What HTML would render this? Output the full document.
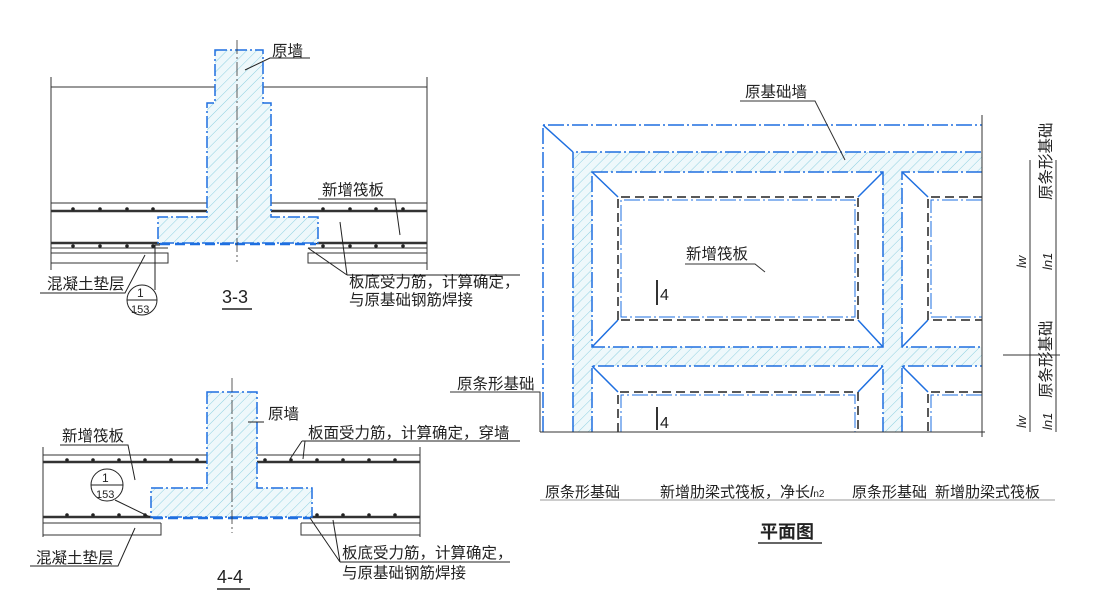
<!DOCTYPE html>
<html><head><meta charset="utf-8"><style>
body{margin:0;background:#fff}
svg{display:block}
text{font-family:"Liberation Sans","Noto Sans CJK SC",sans-serif;fill:#222}
</style></head><body>
<svg width="1105" height="608" viewBox="0 0 1105 608" xmlns="http://www.w3.org/2000/svg">
<defs>
<pattern id="h" width="7" height="7" patternUnits="userSpaceOnUse" patternTransform="rotate(45)">
<rect width="7" height="7" fill="#eef8fb"/><line x1="0" y1="0" x2="0" y2="7" stroke="#8fd0e0" stroke-width="1"/>
</pattern>
</defs>
<g fill="none" stroke="#333" stroke-width="1">
<line x1="51" y1="77" x2="51" y2="270"/><line x1="427" y1="77" x2="427" y2="270"/>
<line x1="51" y1="87" x2="215" y2="87"/><line x1="263" y1="87" x2="427" y2="87"/>
<line x1="51" y1="203" x2="207" y2="203"/><line x1="271" y1="203" x2="427" y2="203"/>
<line x1="51" y1="211" x2="207" y2="211" stroke-width="2.5"/><line x1="271" y1="211" x2="427" y2="211" stroke-width="2.5"/>
<line x1="51" y1="243" x2="160" y2="243" stroke-width="2.5"/><line x1="316" y1="243" x2="427" y2="243" stroke-width="2.5"/>
<line x1="51" y1="248" x2="168" y2="248"/><line x1="308" y1="248" x2="427" y2="248"/>
<path d="M51 253H168V263H51M427 253H308V263H427"/>
</g>
<path d="M215 50H263V103H271V217H318V243H158V217H207V103H215Z" fill="url(#h)" stroke="#1e6fe0" stroke-width="1.5" stroke-dasharray="12 3 2 3"/>
<line x1="160" y1="244" x2="316" y2="244" stroke="#1e6fe0" stroke-width="2.5" stroke-dasharray="10 5"/>
<line x1="237" y1="40" x2="237" y2="262" stroke="#333" stroke-width="0.8" stroke-dasharray="14 3 2 3"/>
<g fill="#222">
<circle cx="73" cy="209" r="1.8"/><circle cx="100" cy="209" r="1.8"/><circle cx="127" cy="209" r="1.8"/><circle cx="153" cy="209" r="1.8"/>
<circle cx="323" cy="209" r="1.8"/><circle cx="350" cy="209" r="1.8"/><circle cx="376" cy="209" r="1.8"/><circle cx="403" cy="209" r="1.8"/>
<circle cx="73" cy="246" r="1.8"/><circle cx="100" cy="246" r="1.8"/><circle cx="127" cy="246" r="1.8"/><circle cx="153" cy="246" r="1.8"/>
<circle cx="323" cy="246" r="1.8"/><circle cx="350" cy="246" r="1.8"/><circle cx="376" cy="246" r="1.8"/><circle cx="403" cy="246" r="1.8"/>
</g>
<g fill="none" stroke="#222" stroke-width="1">
<path d="M245 70L270 58H310"/>
<path d="M318 199H395L400 235"/>
<path d="M340 222L347 275M308 248L347 275M347 275H520"/>
<path d="M40 293H125L145 255"/>
<path d="M155 290V245H160"/>
<circle cx="142" cy="300" r="15"/><line x1="127" y1="300" x2="157" y2="300"/>
<line x1="222" y1="309" x2="252" y2="309" stroke-width="1.5"/>
</g>
<g font-size="15.5">
<text x="272" y="56">原墙</text>
<text x="322" y="195">新增筏板</text>
<text x="47" y="289">混凝土垫层</text>
<text x="349" y="287">板底受力筋，计算确定，</text>
<text x="349" y="305">与原基础钢筋焊接</text>
</g>
<text x="222" y="303" font-size="18">3-3</text>
<text x="137" y="297" font-size="12">1</text><text x="131" y="313" font-size="11">153</text>

<g fill="none" stroke="#333" stroke-width="1">
<line x1="43" y1="447" x2="43" y2="537"/><line x1="420" y1="447" x2="420" y2="537"/>
<line x1="43" y1="455" x2="207" y2="455"/><line x1="257" y1="455" x2="420" y2="455"/>
<line x1="43" y1="462" x2="207" y2="462" stroke-width="2.5"/><line x1="257" y1="462" x2="420" y2="462" stroke-width="2.5"/>
<line x1="43" y1="517" x2="153" y2="517" stroke-width="2.5"/><line x1="310" y1="517" x2="420" y2="517" stroke-width="2.5"/>
<line x1="43" y1="523" x2="161" y2="523"/><line x1="301" y1="523" x2="420" y2="523"/>
<path d="M43 535H161V523M420 535H301V523"/>
</g>
<path d="M207 392H257V488H312V517H151V488H207Z" fill="url(#h)" stroke="#1e6fe0" stroke-width="1.5" stroke-dasharray="12 3 2 3"/>
<line x1="153" y1="518" x2="310" y2="518" stroke="#1e6fe0" stroke-width="2.5" stroke-dasharray="10 5"/>
<line x1="232" y1="378" x2="232" y2="533" stroke="#333" stroke-width="0.8" stroke-dasharray="14 3 2 3"/>
<g fill="#222">
<circle cx="67" cy="460" r="1.8"/><circle cx="93" cy="460" r="1.8"/><circle cx="119" cy="460" r="1.8"/><circle cx="145" cy="460" r="1.8"/><circle cx="171" cy="460" r="1.8"/><circle cx="197" cy="460" r="1.8"/>
<circle cx="265" cy="460" r="1.8"/><circle cx="291" cy="460" r="1.8"/><circle cx="317" cy="460" r="1.8"/><circle cx="343" cy="460" r="1.8"/><circle cx="369" cy="460" r="1.8"/><circle cx="395" cy="460" r="1.8"/>
<circle cx="67" cy="515" r="1.8"/><circle cx="93" cy="515" r="1.8"/><circle cx="119" cy="515" r="1.8"/><circle cx="145" cy="515" r="1.8"/>
<circle cx="317" cy="515" r="1.8"/><circle cx="343" cy="515" r="1.8"/><circle cx="369" cy="515" r="1.8"/><circle cx="395" cy="515" r="1.8"/>
</g>
<g fill="none" stroke="#222" stroke-width="1">
<path d="M60 445H128L135 480"/>
<path d="M248 422H264"/>
<path d="M290 459L302 441M303 459L305 441M302 441H520"/>
<path d="M30 566H118L135 528"/>
<path d="M310 518L340 562M333 520L340 562M340 562H510"/>
<circle cx="107" cy="485" r="16"/><line x1="91" y1="485" x2="123" y2="485"/>
<path d="M115 500L150 517"/>
<line x1="217" y1="589" x2="250" y2="589" stroke-width="1.5"/>
</g>
<g font-size="15.5">
<text x="268" y="419">原墙</text>
<text x="62" y="441">新增筏板</text>
<text x="308" y="438">板面受力筋，计算确定，穿墙</text>
<text x="36" y="563">混凝土垫层</text>
<text x="342" y="558">板底受力筋，计算确定，</text>
<text x="342" y="578">与原基础钢筋焊接</text>
</g>
<text x="217" y="583" font-size="18">4-4</text>
<text x="102" y="482" font-size="12">1</text><text x="96" y="498" font-size="11">153</text>

<g fill="url(#h)" stroke="none">
<rect x="573" y="152" width="19" height="280"/>
<rect x="573" y="152" width="409" height="20"/>
<rect x="883" y="152" width="19" height="280"/>
<rect x="573" y="347" width="409" height="19"/>
</g>
<g fill="none" stroke="#1e6fe0" stroke-width="1.5" stroke-dasharray="16 3 2 3">
<path d="M543 432V125H982"/>
<path d="M573 432V152H982"/>
<path d="M592 432V366H883V432M902 432V366H982"/>
<path d="M592 172H883V347H592Z"/>
<path d="M982 172H902V347H982"/>
<path d="M621 317V200H855V317Z" stroke-width="1"/>
<path d="M982 200H931V317H982" stroke-width="1"/>
<path d="M621 432V395H855V432M982 395H931V432" stroke-width="1"/>
</g>
<g fill="none" stroke="#1e6fe0" stroke-width="1.5">
<path d="M543 125L573 152"/>
<path d="M592 172L618 197M883 172L858 197M592 347L618 320M883 347L858 320"/>
<path d="M902 172L928 197M902 347L928 320"/>
<path d="M592 366L618 392M883 366L858 392M902 366L928 392"/>
</g>
<g fill="none" stroke="#222" stroke-width="1.5" stroke-dasharray="9 5">
<path d="M618 320V197H858V320Z"/>
<path d="M982 197H928V320H982"/>
<path d="M618 432V392H858V432M982 392H928V432"/>
</g>
<g fill="none" stroke="#333" stroke-width="1">
<line x1="540" y1="432" x2="985" y2="432"/>
<line x1="982" y1="115" x2="982" y2="437"/>
<line x1="1030" y1="160" x2="1030" y2="432"/>
<line x1="1056" y1="160" x2="1056" y2="432"/>
<line x1="1003" y1="355" x2="1060" y2="355"/>
<path d="M740 101H815L845 160"/>
<path d="M685 264H755L765 272"/>
<path d="M450 392H540V432"/>
<line x1="657" y1="280" x2="657" y2="305" stroke-width="2"/>
<line x1="657" y1="407" x2="657" y2="430" stroke-width="2"/>
<line x1="540" y1="500" x2="1055" y2="500" stroke-width="0.6"/>
<line x1="758" y1="543" x2="822" y2="543" stroke-width="1.5"/>
</g>
<g font-size="15.5">
<text x="745" y="97">原基础墙</text>
<text x="686" y="259">新增筏板</text>
<text x="457" y="389">原条形基础</text>
</g>
<text x="660" y="300" font-size="16">4</text>
<text x="660" y="428" font-size="16">4</text>
<g font-size="15.5">
<text transform="translate(1051,200) rotate(-90)">原条形基础</text>
<text transform="translate(1051,398) rotate(-90)">原条形基础</text>
</g>
<text x="1026" y="268" font-size="13" font-style="italic" transform="rotate(-90 1026 268)">lw</text>
<text x="1052" y="270" font-size="13" font-style="italic" transform="rotate(-90 1052 270)">ln1</text>
<text x="1026" y="428" font-size="13" font-style="italic" transform="rotate(-90 1026 428)">lw</text>
<text x="1052" y="430" font-size="13" font-style="italic" transform="rotate(-90 1052 430)">ln1</text>
<g font-size="15">
<text x="545" y="497">原条形基础</text>
<text x="660" y="497">新增肋梁式筏板，净长<tspan font-style="italic">l</tspan><tspan font-size="10">n2</tspan></text>
<text x="852" y="497">原条形基础</text>
<text x="935" y="497">新增肋梁式筏板</text>
</g>
<text x="760" y="538" font-size="18" font-weight="bold">平面图</text>
</svg>
</body></html>
